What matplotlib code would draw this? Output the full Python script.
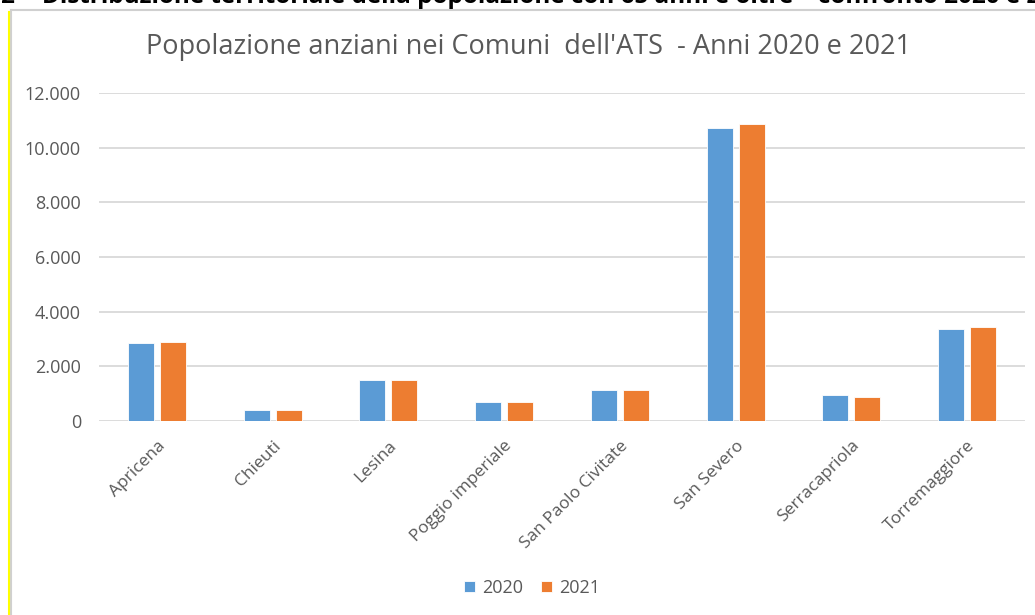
import matplotlib.pyplot as plt
import numpy as np
from matplotlib.lines import Line2D

comuni = ["Apricena", "Chieuti", "Lesina", "Poggio imperiale",
          "San Paolo Civitate", "San Severo", "Serracapriola", "Torremaggiore"]
anni = ["2020", "2021"]
pop_2020 = [2857, 420, 1518, 688, 1152, 10737, 933, 3370]
pop_2021 = [2894, 415, 1515, 690, 1150, 10860, 882, 3457]

colori = ["#5B9BD5", "#ED7D31"]
grigio = "#595959"

plt.rcParams["font.family"] = ["Open Sans", "DejaVu Sans"]

fig = plt.figure(figsize=(10.35, 6.15), dpi=100)
W, H = 1035, 615

# plot area in pixel coords: left 99, right 1025, top 93, bottom 421
ax = fig.add_axes([99 / W, 1 - 421 / H, (1025 - 99) / W, (421 - 93) / H])

x = np.arange(len(comuni))
w = 0.225
ax.bar(x - 0.138, pop_2020, w, color=colori[0], label=anni[0],
       edgecolor="white", linewidth=0.6, zorder=3)
ax.bar(x + 0.138, pop_2021, w, color=colori[1], label=anni[1],
       edgecolor="white", linewidth=0.6, zorder=3)

ax.set_xlim(-0.5, len(comuni) - 0.5)
ax.set_ylim(0, 12000)
yt = np.arange(0, 12001, 2000)
ax.set_yticks(yt)
ax.set_yticklabels([f"{v:,}".replace(",", ".") for v in yt],
                   fontsize=13, color=grigio)
ax.set_xticks(x)
ax.set_xticklabels(comuni, rotation=45, ha="right", rotation_mode="anchor",
                   fontsize=12.5, color=grigio)
ax.tick_params(axis="both", length=0)
ax.tick_params(axis="y", pad=13)
ax.tick_params(axis="x", pad=12)
ax.grid(axis="y", color="#d9d9d9", linewidth=1.3, zorder=0)
for s in ax.spines.values():
    s.set_visible(False)

fig.text(529 / W, 1 - 47 / H,
         "Popolazione anziani nei Comuni  dell'ATS  - Anni 2020 e 2021",
         ha="center", va="center", fontsize=19.5, color=grigio)

fig.legend(loc="center", bbox_to_anchor=(532 / W, 1 - 588 / H), ncol=2,
           frameon=False, fontsize=13, handlelength=0.6, handleheight=0.6,
           handletextpad=0.4, columnspacing=1.0, labelcolor=grigio)

# chart frame and the yellow margin line of the page
fig.add_artist(Line2D([11 / W, 1], [1 - 10 / H, 1 - 10 / H],
                      color="#d0d0d0", linewidth=1.5))
fig.add_artist(Line2D([11 / W, 11 / W], [0, 1 - 10 / H],
                      color="#d0d0d0", linewidth=1.5))
fig.add_artist(Line2D([8.5 / W, 8.5 / W], [0, 1 - 12 / H],
                      color="#ffff00", linewidth=1.5))

# heading of the page, cut off by the top edge as in the source document
fig.text(0, 1 - 3 / H, "2", ha="left", va="baseline",
         fontsize=17.5, fontweight="bold", color="black")
fig.text(42 / W, 1 - 3 / H,
         "Distribuzione territoriale della popolazione con 65 anni e oltre \u2013 confronto 2020 e 2021",
         ha="left", va="baseline", fontsize=17.5, fontweight="bold", color="black")

fig.savefig("out.png", dpi=100)
